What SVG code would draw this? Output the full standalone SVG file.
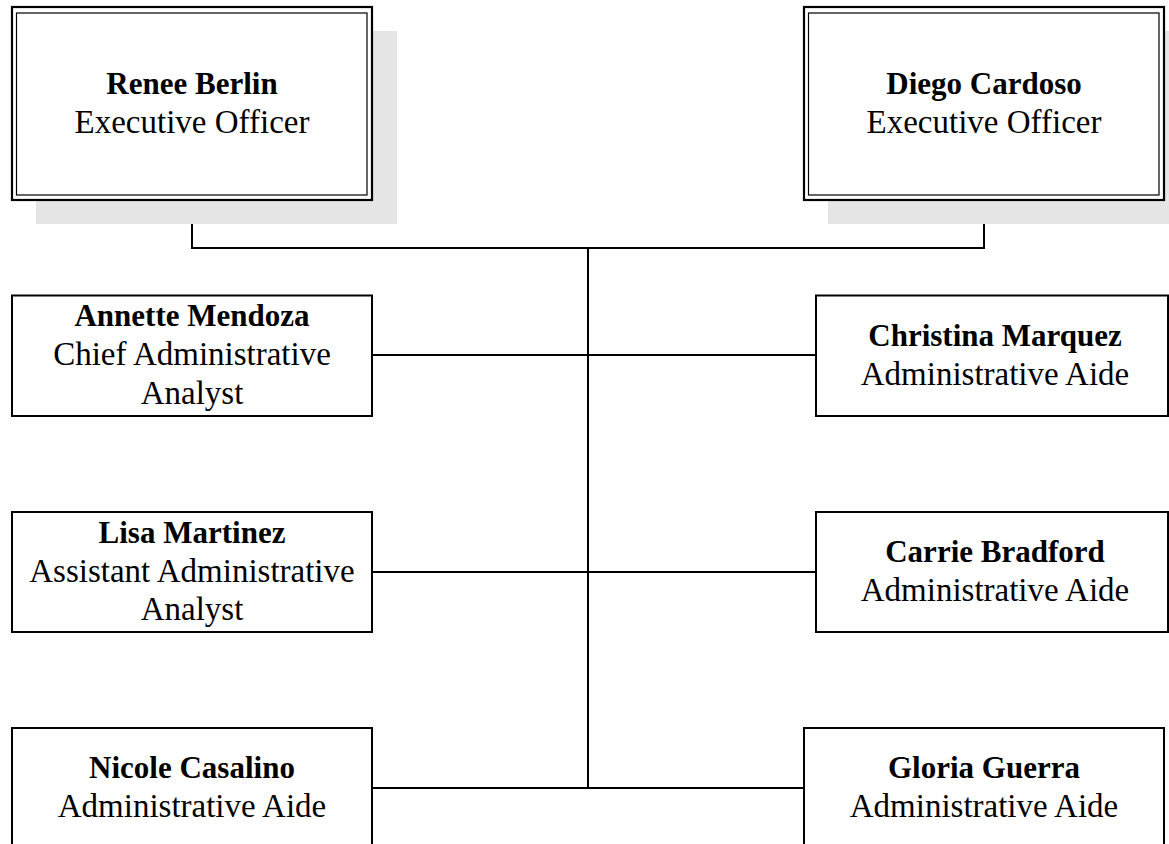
<svg xmlns="http://www.w3.org/2000/svg" width="1169" height="844" viewBox="0 0 1169 844">
<style>
.bg{fill:#ffffff}
.shadow{fill:#e5e5e5;stroke:none}
.outer{fill:#ffffff;stroke:#000;stroke-width:2.2}
.inner{fill:none;stroke:#000;stroke-width:1.2}
.box{fill:#ffffff;stroke:#000;stroke-width:2}
.name{font-family:"Liberation Serif","Times New Roman",serif;font-weight:bold;font-size:31px;fill:#000;text-anchor:middle}
.title{font-family:"Liberation Serif","Times New Roman",serif;font-size:33px;fill:#000;text-anchor:middle}
.conn{fill:none;stroke:#000;stroke-width:2}
</style>
<rect class="bg" x="0" y="0" width="1169" height="844"/>
<g id="connectors">
<polyline class="conn" points="192,200 192,248 984,248 984,200"/>
<line class="conn" x1="588" y1="248" x2="588" y2="789"/>
<line class="conn" x1="372" y1="355" x2="816" y2="355"/>
<line class="conn" x1="372" y1="572" x2="816" y2="572"/>
<line class="conn" x1="372" y1="788" x2="804" y2="788"/>
</g>
<g id="renee-berlin">
<rect class="shadow" x="36" y="31" width="361" height="193"/>
<rect class="outer" x="12" y="7" width="360" height="193"/>
<rect class="inner" x="16.5" y="13" width="350.5" height="182"/>
<text class="name" x="192" y="94">Renee Berlin</text>
<text class="title" x="192" y="133">Executive Officer</text>
</g>
<g id="diego-cardoso">
<rect class="shadow" x="828" y="31" width="361" height="193"/>
<rect class="outer" x="804" y="7" width="360" height="193"/>
<rect class="inner" x="808.5" y="13" width="350.5" height="182"/>
<text class="name" x="984" y="94">Diego Cardoso</text>
<text class="title" x="984" y="133">Executive Officer</text>
</g>
<g id="annette-mendoza">
<rect class="box" x="12" y="295.5" width="360" height="120.5"/>
<text class="name" x="192" y="326">Annette Mendoza</text>
<text class="title" x="192" y="365">Chief Administrative</text>
<text class="title" x="192" y="404">Analyst</text>
</g>
<g id="lisa-martinez">
<rect class="box" x="12" y="512" width="360" height="120"/>
<text class="name" x="192" y="543">Lisa Martinez</text>
<text class="title" x="192" y="582">Assistant Administrative</text>
<text class="title" x="192" y="620">Analyst</text>
</g>
<g id="nicole-casalino">
<rect class="box" x="12" y="728" width="360" height="130"/>
<text class="name" x="192" y="778">Nicole Casalino</text>
<text class="title" x="192" y="817">Administrative Aide</text>
</g>
<g id="christina-marquez">
<rect class="box" x="816" y="295.5" width="352" height="120.5"/>
<text class="name" x="995" y="346">Christina Marquez</text>
<text class="title" x="995" y="385">Administrative Aide</text>
</g>
<g id="carrie-bradford">
<rect class="box" x="816" y="512" width="352" height="120"/>
<text class="name" x="995" y="562">Carrie Bradford</text>
<text class="title" x="995" y="601">Administrative Aide</text>
</g>
<g id="gloria-guerra">
<rect class="box" x="804" y="728" width="360" height="130"/>
<text class="name" x="984" y="778">Gloria Guerra</text>
<text class="title" x="984" y="817">Administrative Aide</text>
</g>
</svg>
